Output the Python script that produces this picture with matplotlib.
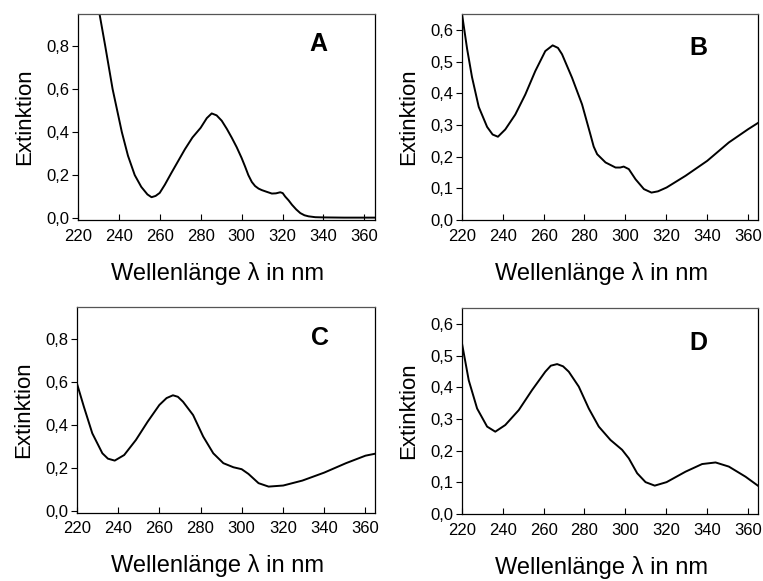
import matplotlib.pyplot as plt

plt.rcParams['font.family'] = ['Liberation Sans', 'DejaVu Sans']

# spectra (wavelength in nm, extinction)
wl_a = [228, 230.6, 233.4, 237, 241.5, 244.5, 247.8, 251, 254, 256, 258, 260, 262.5, 265.7,
        269, 272.3, 276, 280, 283, 285.4, 287.8, 290.3, 292.8, 295.2, 297.6, 300, 301.7,
        303.3, 305, 306.6, 308.3, 309.9, 312.3, 314.8, 316.8, 318.9, 320.1, 321.3, 323,
        324.6, 326.7, 328.7, 330.7, 332.7, 336, 340, 350, 365]
ext_a = [1.02, 0.95, 0.80, 0.60, 0.40, 0.29, 0.20, 0.145, 0.11, 0.097, 0.103, 0.117, 0.155,
         0.21, 0.265, 0.32, 0.375, 0.42, 0.465, 0.487, 0.478, 0.453, 0.415, 0.374, 0.33,
         0.28, 0.24, 0.2, 0.168, 0.149, 0.137, 0.13, 0.122, 0.114, 0.115, 0.12, 0.116,
         0.10, 0.082, 0.062, 0.04, 0.023, 0.013, 0.008, 0.004, 0.003, 0.002, 0.002]

wl_b = [220, 222.5, 224.9, 228.2, 232.3, 235, 237.6, 241.2, 246.1, 251, 255.9, 260.8, 264.4,
        267, 269, 273.9, 278.8, 282.9, 284.5, 286.2, 290.3, 295.2, 297.5, 299.2, 301.7,
        305, 309.1, 312.8, 316, 320.2, 329.5, 340.1, 350.7, 360.2, 365.1]
ext_b = [0.65, 0.54, 0.451, 0.357, 0.294, 0.27, 0.263, 0.286, 0.333, 0.396, 0.47, 0.533,
         0.551, 0.543, 0.523, 0.449, 0.365, 0.27, 0.232, 0.208, 0.182, 0.166, 0.166, 0.169,
         0.161, 0.129, 0.098, 0.087, 0.091, 0.103, 0.14, 0.187, 0.245, 0.287, 0.307]

wl_c = [220, 223.3, 227.4, 232.3, 235, 238.3, 242.9, 248.6, 254.3, 260, 263.5, 266.6, 269,
        271.5, 276.4, 281.3, 286.2, 291.1, 296, 300, 303.3, 308.2, 313.1, 320.2, 329.5,
        340.1, 350.7, 360.2, 365.9]
ext_c = [0.591, 0.485, 0.361, 0.268, 0.243, 0.234, 0.26, 0.33, 0.415, 0.493, 0.525, 0.538,
         0.531, 0.508, 0.446, 0.346, 0.268, 0.222, 0.203, 0.194, 0.172, 0.129, 0.113,
         0.118, 0.141, 0.178, 0.222, 0.257, 0.268]

wl_d = [220, 223.3, 227.4, 232.3, 236.3, 241.2, 247.8, 254.3, 260.8, 263.5, 266.6, 269.5,
        272.3, 277.2, 282.1, 287, 292.7, 298.4, 301.7, 305.8, 309.9, 314.4, 320.2, 329.5,
        337.6, 344.2, 350.7, 358.9, 365.1]
ext_d = [0.538, 0.422, 0.333, 0.276, 0.26, 0.281, 0.328, 0.391, 0.449, 0.468, 0.473, 0.466,
         0.449, 0.402, 0.333, 0.276, 0.234, 0.203, 0.176, 0.129, 0.101, 0.09, 0.101, 0.134,
         0.158, 0.163, 0.15, 0.118, 0.089]

x_ticks = [220, 240, 260, 280, 300, 320, 340, 360]
y_ticks_ac = [0.0, 0.2, 0.4, 0.6, 0.8]
y_ticks_bd = [0.0, 0.1, 0.2, 0.3, 0.4, 0.5, 0.6]

panels = [
    ("A", wl_a, ext_a, y_ticks_ac, (-0.01, 0.95), [0.102, 0.621, 0.389, 0.355], (0.81, 0.855)),
    ("B", wl_b, ext_b, y_ticks_bd, (0.0, 0.65), [0.6055, 0.621, 0.388, 0.355], (0.80, 0.835)),
    ("C", wl_c, ext_c, y_ticks_ac, (-0.01, 0.95), [0.101, 0.117, 0.391, 0.355], (0.815, 0.85)),
    ("D", wl_d, ext_d, y_ticks_bd, (0.0, 0.65), [0.6055, 0.115, 0.388, 0.355], (0.80, 0.83)),
]

fig = plt.figure(figsize=(7.63, 5.81), dpi=100)
for label, x, y, yt, ylim, pos, lpos in panels:
    ax = fig.add_axes(pos)
    ax.plot(x, y, color='black', lw=1.4, solid_joinstyle='round')
    ax.set_xlim(220, 365)
    ax.set_ylim(*ylim)
    ax.set_xticks(x_ticks)
    ax.set_xticklabels([str(t) for t in x_ticks])
    ax.set_yticks(yt)
    ax.set_yticklabels([f"{t:.1f}".replace(".", ",") for t in yt])
    ax.tick_params(axis='x', direction='in', length=4, width=0.8, labelsize=12, pad=6)
    ax.tick_params(axis='y', direction='out', length=4, width=0.8, labelsize=12, pad=2)
    for s in ax.spines.values():
        s.set_linewidth(0.9)
    ax.spines['top'].set_color('#555555')
    ax.set_xlabel("Wellenlänge λ in nm", fontsize=17, labelpad=13)
    ax.xaxis.label.set_x(0.472)
    ax.set_ylabel("Extinktion", fontsize=16, labelpad=8)
    ax.text(lpos[0], lpos[1], label, transform=ax.transAxes, fontsize=18,
            fontweight='bold', ha='center', va='center')

plt.savefig("out.png")
